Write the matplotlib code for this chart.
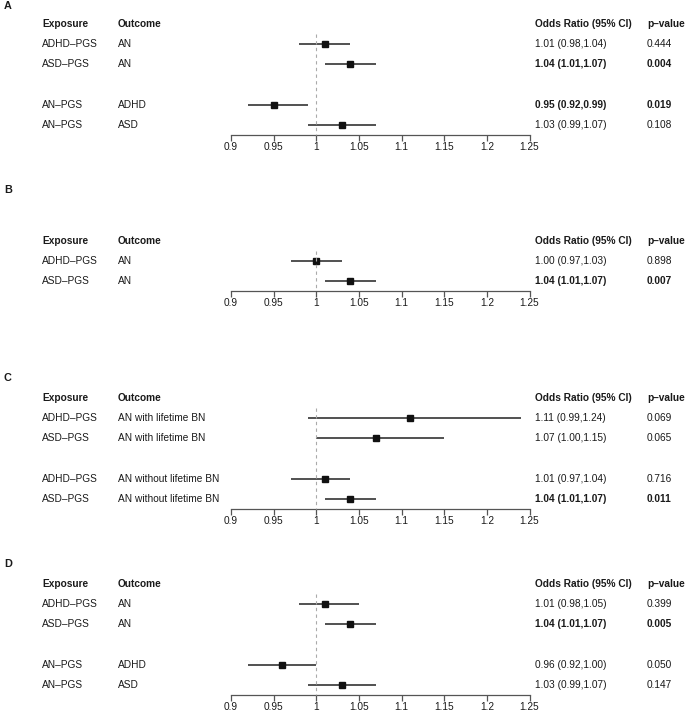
import numpy as np
import matplotlib
matplotlib.use("Agg")
import matplotlib.pyplot as plt
from matplotlib.transforms import blended_transform_factory

plt.rcParams['font.family'] = ['Liberation Sans', 'DejaVu Sans']

# data for the four panels
panels = ["A", "B", "C", "D"]
exposures = [
    ["ADHD\u2013PGS", "ASD\u2013PGS", "AN\u2013PGS", "AN\u2013PGS"],
    ["ADHD\u2013PGS", "ASD\u2013PGS"],
    ["ADHD\u2013PGS", "ASD\u2013PGS", "ADHD\u2013PGS", "ASD\u2013PGS"],
    ["ADHD\u2013PGS", "ASD\u2013PGS", "AN\u2013PGS", "AN\u2013PGS"],
]
outcomes = [
    ["AN", "AN", "ADHD", "ASD"],
    ["AN", "AN"],
    ["AN with lifetime BN", "AN with lifetime BN",
     "AN without lifetime BN", "AN without lifetime BN"],
    ["AN", "AN", "ADHD", "ASD"],
]
odds = [
    [1.01, 1.04, 0.95, 1.03],
    [1.00, 1.04],
    [1.11, 1.07, 1.01, 1.04],
    [1.01, 1.04, 0.96, 1.03],
]
ci_low = [
    [0.98, 1.01, 0.92, 0.99],
    [0.97, 1.01],
    [0.99, 1.00, 0.97, 1.01],
    [0.98, 1.01, 0.92, 0.99],
]
ci_high = [
    [1.04, 1.07, 0.99, 1.07],
    [1.03, 1.07],
    [1.24, 1.15, 1.04, 1.07],
    [1.05, 1.07, 1.00, 1.07],
]
pvals = [
    ["0.444", "0.004", "0.019", "0.108"],
    ["0.898", "0.007"],
    ["0.069", "0.065", "0.716", "0.011"],
    ["0.399", "0.005", "0.050", "0.147"],
]
row_pos = [
    [1, 2, 4, 5],
    [1, 2],
    [1, 2, 4, 5],
    [1, 2, 4, 5],
]
xticks = [0.9, 0.95, 1, 1.05, 1.1, 1.15, 1.2, 1.25]
xticklabels = ["0.9", "0.95", "1", "1.05", "1.1", "1.15", "1.2", "1.25"]

W, H = 685, 711
fig = plt.figure(figsize=(W / 100, H / 100), dpi=100)

FS = 7.3
TXT = "#1a1a1a"
header_px = [24, 240.7, 398, 584]
label_px = [6, 190, 378, 564]
pitch = 20.2
x0_px, x1_px = 231, 529.5
col_exp, col_out, col_or, col_p = 42 / W, 118 / W, 535 / W, 647 / W

for k, name in enumerate(panels):
    last = max(row_pos[k])
    ybot = last + 0.5
    top = header_px[k]
    bottom = top + ybot * pitch
    ax = fig.add_axes([x0_px / W, 1 - bottom / H, (x1_px - x0_px) / W, (bottom - top) / H])
    ax.set_xlim(0.9, 1.25)
    ax.set_ylim(ybot, 0)
    for s in ["top", "right", "left"]:
        ax.spines[s].set_visible(False)
    ax.spines["bottom"].set_color("#555555")
    ax.spines["bottom"].set_linewidth(0.9)
    ax.set_yticks([])
    ax.set_xticks(xticks)
    ax.set_xticklabels(xticklabels, fontsize=FS, color=TXT)
    ax.tick_params(axis="x", direction="out", length=4, width=0.9, color="#555555", pad=1)
    ax.patch.set_alpha(0)

    rows = np.array(row_pos[k])
    ax.hlines(rows, ci_low[k], ci_high[k], color="#222222", lw=1.1, zorder=2)
    ax.plot(odds[k], rows, "s", color="#111111", ms=4.6, zorder=3)
    ax.plot([1, 1], [0.5, ybot], ls=(0, (3, 3)), color="#aaaaaa", lw=0.8, zorder=4, clip_on=False)

    tr = blended_transform_factory(fig.transFigure, ax.transData)
    ax.text(col_exp, 0, "Exposure", transform=tr, fontsize=FS, fontweight="bold", va="center", color=TXT)
    ax.text(col_out, 0, "Outcome", transform=tr, fontsize=FS, fontweight="bold", va="center", color=TXT)
    ax.text(col_or, 0, "Odds Ratio (95% CI)", transform=tr, fontsize=FS, fontweight="bold", va="center", color=TXT)
    ax.text(col_p, 0, "p\u2013value", transform=tr, fontsize=FS, fontweight="bold", va="center", color=TXT)
    for i, r in enumerate(rows):
        bold = float(pvals[k][i]) < 0.05
        fw = "bold" if bold else "normal"
        ax.text(col_exp, r, exposures[k][i], transform=tr, fontsize=FS, va="center", color=TXT)
        ax.text(col_out, r, outcomes[k][i], transform=tr, fontsize=FS, va="center", color=TXT)
        ortxt = "%.2f (%.2f,%.2f)" % (odds[k][i], ci_low[k][i], ci_high[k][i])
        ax.text(col_or, r, ortxt, transform=tr, fontsize=FS, va="center", fontweight=fw, color=TXT)
        ax.text(col_p, r, pvals[k][i], transform=tr, fontsize=FS, va="center", fontweight=fw, color=TXT)

    fig.text(4 / W, 1 - label_px[k] / H, name, fontsize=FS + 0.5, fontweight="bold", va="center", color=TXT)

fig.savefig("out.png", dpi=100)
